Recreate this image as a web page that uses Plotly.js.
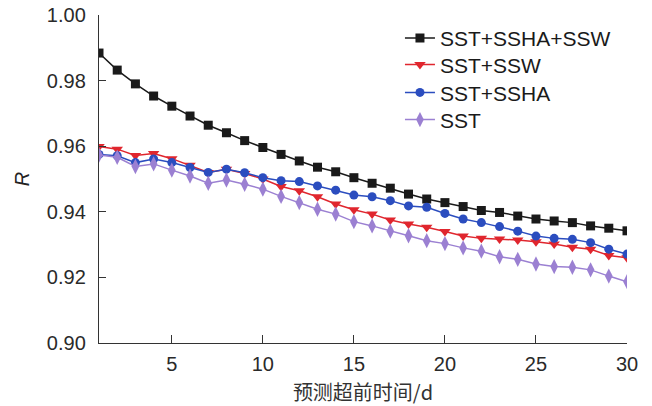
<!DOCTYPE html>
<html>
<head>
<meta charset="utf-8">
<script src="https://cdn.plot.ly/plotly-3.0.1.min.js"></script>
<style>html,body{margin:0;padding:0;background:#fff;}#chart{width:652px;height:406px;}</style>
</head>
<body>
<div id="chart"></div>
<script>
const leadDays = [1,2,3,4,5,6,7,8,9,10,11,12,13,14,15,16,17,18,19,20,21,22,23,24,25,26,27,28,29,30];
const seriesNames = ["SST+SSHA+SSW","SST+SSW","SST+SSHA","SST"];
const rSstSshaSsw = [0.9884,0.9832,0.9790,0.9753,0.9722,0.9692,0.9664,0.9641,0.9617,0.9596,0.9575,0.9555,0.9536,0.9522,0.9504,0.9487,0.9472,0.9454,0.9439,0.9428,0.9416,0.9404,0.9398,0.9387,0.9378,0.9372,0.9367,0.9357,0.9350,0.9342];
const rSstSsw = [0.9599,0.9591,0.9572,0.9578,0.9562,0.9542,0.9520,0.9530,0.9517,0.9500,0.9477,0.9464,0.9446,0.9424,0.9406,0.9393,0.9375,0.9363,0.9353,0.9340,0.9326,0.9319,0.9317,0.9314,0.9309,0.9302,0.9292,0.9286,0.9267,0.9260];
const rSstSsha = [0.9575,0.9571,0.9550,0.9561,0.9550,0.9535,0.9520,0.9530,0.9519,0.9504,0.9495,0.9492,0.9479,0.9466,0.9451,0.9446,0.9434,0.9418,0.9414,0.9395,0.9378,0.9367,0.9355,0.9341,0.9326,0.9319,0.9316,0.9306,0.9286,0.9271];
const rSst = [0.9573,0.9566,0.9538,0.9546,0.9527,0.9509,0.9487,0.9497,0.9484,0.9469,0.9447,0.9428,0.9408,0.9393,0.9370,0.9357,0.9341,0.9327,0.9312,0.9303,0.9290,0.9280,0.9263,0.9255,0.9241,0.9233,0.9231,0.9223,0.9204,0.9187];

const colors = ["#1a1a1a","#e0262e","#2b4dbf","#9b80d2"];
const symbols = ["square","triangle-down","circle","diamond-tall"];
const sizes = [9,10,9,11];
const values = [rSstSshaSsw, rSstSsw, rSstSsha, rSst];
const legendIds = ["legend","legend2","legend3","legend4"];
const legendRowY = [0.929, 0.848, 0.763, 0.680];

const traces = values.map((v,i)=>({
  x: leadDays, y: v, name: seriesNames[i], type: "scatter", mode: "lines+markers",
  legend: legendIds[i],
  line: {color: colors[i], width: 1.5},
  marker: {symbol: symbols[i], size: sizes[i], color: colors[i]}
}));

const fontFam = "Liberation Sans, Arial, Noto Sans CJK SC, sans-serif";
const layout = {
  width: 652, height: 406,
  margin: {l: 99, r: 25, t: 15, b: 63},
  paper_bgcolor: "#fff", plot_bgcolor: "#fff",
  font: {family: fontFam, size: 20, color: "#2a2a2a"},
  showlegend: true,
  xaxis: {range: [1, 30], tickvals: [5,10,15,20,25,30], ticks: "inside", ticklen: 8,
          showline: true, linecolor: "#333", linewidth: 1.2, tickcolor: "#333", showgrid: false, zeroline: false,
          ticklabelstandoff: 3,
          title: {text: "预测超前时间/d", font: {size: 20, family: "Noto Sans CJK SC, Liberation Sans, sans-serif", color: "#333"}, standoff: 11}},
  yaxis: {range: [0.9, 1.0], tickvals: [0.90,0.92,0.94,0.96,0.98,1.00], tickformat: ".2f",
          ticks: "inside", ticklen: 7, showline: true, linecolor: "#333", linewidth: 1.2, tickcolor: "#333",
          showgrid: false, zeroline: false, ticklabelstandoff: 8,
          title: {text: "<i>R</i>", font: {size: 20, color: "#222"}, standoff: 11}}
};
legendIds.forEach((id,i)=>{
  layout[id] = {x: 0.57, y: legendRowY[i], xanchor: "left", yanchor: "middle", bgcolor: "rgba(0,0,0,0)",
                font: {size: 21, color: "#1a1a1a"}};
});
Plotly.newPlot("chart", traces, layout, {displayModeBar: false, staticPlot: true});
</script>
</body>
</html>
